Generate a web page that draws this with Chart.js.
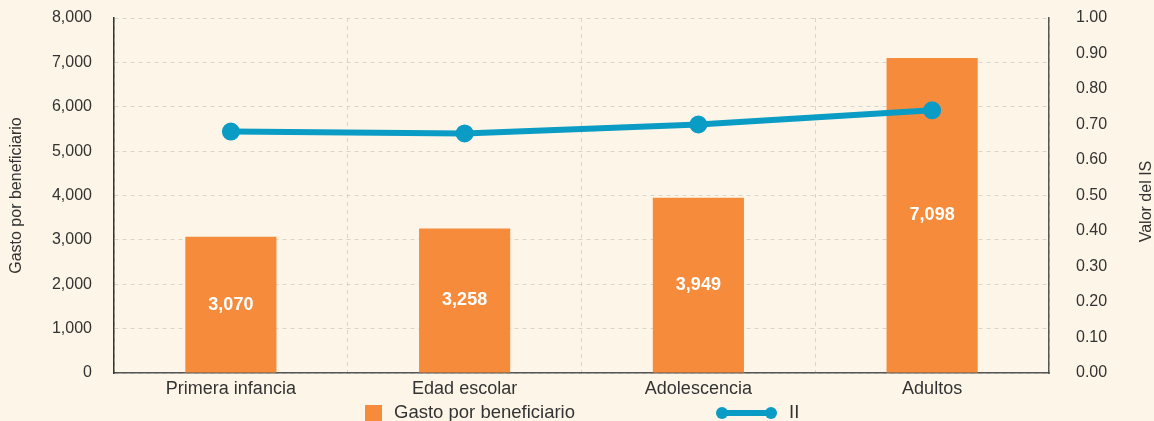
<!DOCTYPE html>
<html>
<head>
<meta charset="utf-8">
<script src="https://cdn.jsdelivr.net/npm/chart.js@4/dist/chart.umd.min.js"></script>
<style>
  html, body { margin: 0; padding: 0; background: #fdf6e8; }
  #wrap { width: 1154px; height: 421px; position: relative; }
</style>
</head>
<body>
<div id="wrap"><canvas id="grafico"></canvas></div>
<script>
const categorias = ['Primera infancia', 'Edad escolar', 'Adolescencia', 'Adultos'];
const gastoBeneficiario = [3070, 3258, 3949, 7098];
const valorIS = [0.68, 0.675, 0.70, 0.74];

const naranja = '#f68b3c';
const azul = '#0a9cc5';
const texto = '#333333';
const fuente = '"Liberation Sans", Arial, sans-serif';

// ancho fijo del eje y sin el relleno extra que suma el padding de las marcas
function fijarEje(ancho) {
    return scale => {
        scale.width = ancho;
        scale.paddingTop = 0;
        scale.paddingBottom = 0;
    };
}

// etiquetas blancas dentro de las barras, títulos de ejes y leyenda
const extras = {
    id: 'extras',
    afterDatasetsDraw(chart) {
        const ctx = chart.ctx;
        const meta = chart.getDatasetMeta(1);
        ctx.save();
        ctx.fillStyle = '#ffffff';
        ctx.font = 'bold 18px ' + fuente;
        ctx.textAlign = 'center';
        ctx.textBaseline = 'middle';
        meta.data.forEach((bar, i) => {
            const medio = (bar.y + bar.base) / 2;
            ctx.fillText(gastoBeneficiario[i].toLocaleString('en-US'), bar.x, medio);
        });
        ctx.restore();
    },
    afterDraw(chart) {
        const ctx = chart.ctx;
        const area = chart.chartArea;
        const centroY = (area.top + area.bottom) / 2;
        ctx.save();
        ctx.fillStyle = texto;
        ctx.font = '16px ' + fuente;
        ctx.textAlign = 'center';
        ctx.textBaseline = 'middle';
        // títulos verticales
        ctx.translate(17, centroY);
        ctx.rotate(-Math.PI / 2);
        ctx.fillText('Gasto por beneficiario', 0, 0);
        ctx.restore();

        ctx.save();
        ctx.fillStyle = texto;
        ctx.font = '16px ' + fuente;
        ctx.textAlign = 'center';
        ctx.textBaseline = 'middle';
        ctx.translate(1147, centroY + 6);
        ctx.rotate(-Math.PI / 2);
        ctx.fillText('Valor del IS', 0, 0);
        ctx.restore();

        // leyenda
        const y = 413;
        ctx.save();
        ctx.fillStyle = naranja;
        ctx.fillRect(365, 405, 17, 17);
        ctx.fillStyle = texto;
        ctx.font = '18.5px ' + fuente;
        ctx.textAlign = 'left';
        ctx.textBaseline = 'middle';
        ctx.fillText('Gasto por beneficiario', 394, y);
        ctx.strokeStyle = azul;
        ctx.lineWidth = 6;
        ctx.beginPath();
        ctx.moveTo(722, y);
        ctx.lineTo(771, y);
        ctx.stroke();
        ctx.fillStyle = azul;
        [722, 771].forEach(x => {
            ctx.beginPath();
            ctx.arc(x, y, 6, 0, Math.PI * 2);
            ctx.fill();
        });
        ctx.fillStyle = texto;
        ctx.fillText('II', 789, y);
        ctx.restore();
    }
};

const ctx = document.getElementById('grafico').getContext('2d');
new Chart(ctx, {
    data: {
        labels: categorias,
        datasets: [
            {
                type: 'line',
                label: 'II',
                data: valorIS,
                yAxisID: 'yIS',
                borderColor: azul,
                backgroundColor: azul,
                borderWidth: 6,
                pointRadius: 6,
                pointHoverRadius: 6,
                tension: 0,
                order: 0
            },
            {
                type: 'bar',
                label: 'Gasto por beneficiario',
                data: gastoBeneficiario,
                yAxisID: 'y',
                backgroundColor: naranja,
                barPercentage: 0.39,
                categoryPercentage: 1,
                order: 1
            }
        ]
    },
    options: {
        responsive: true,
        maintainAspectRatio: false,
        animation: false,
        layout: { padding: { top: 18, left: 0, right: 0, bottom: 0 } },
        plugins: {
            legend: { display: false },
            tooltip: { enabled: false }
        },
        scales: {
            x: {
                offset: true,
                grid: {
                    offset: true,
                    drawTicks: false,
                    color: '#d9d5cc',
                    lineWidth: 1
                },
                border: { display: true, color: '#555555', width: 1.5, dash: [4, 4] },
                ticks: {
                    color: texto,
                    font: { family: fuente, size: 18 },
                    padding: 5,
                    maxRotation: 0
                },
                afterFit(scale) { scale.height = 48; }
            },
            y: {
                position: 'left',
                min: 0,
                max: 8000,
                grid: {
                    drawTicks: false,
                    color: '#d9d5cc',
                    lineWidth: 1
                },
                border: { display: true, color: '#333333', width: 1.5, dash: [4, 4] },
                ticks: {
                    stepSize: 1000,
                    color: texto,
                    font: { family: fuente, size: 16 },
                    padding: 22,
                    callback: v => v.toLocaleString('en-US')
                },
                afterFit: fijarEje(114)
            },
            yIS: {
                position: 'right',
                min: 0,
                max: 1,
                grid: { display: false, drawTicks: false },
                border: { display: true, color: '#555555', width: 1.5 },
                ticks: {
                    stepSize: 0.1,
                    color: texto,
                    font: { family: fuente, size: 16 },
                    padding: 27,
                    callback: v => v.toFixed(2)
                },
                afterFit: fijarEje(105)
            }
        }
    },
    plugins: [extras]
});
</script>
</body>
</html>
